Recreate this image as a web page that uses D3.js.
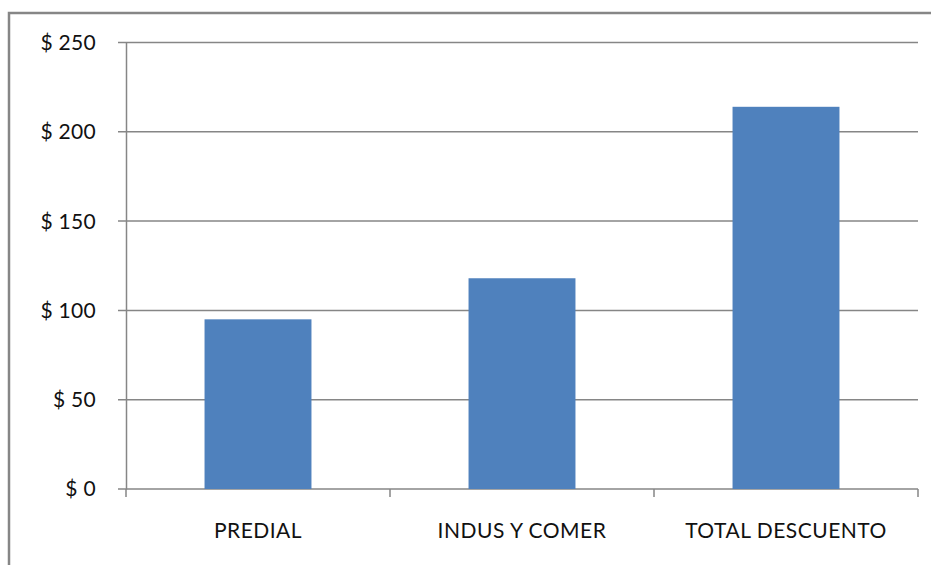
<!DOCTYPE html>
<html>
<head>
<meta charset="utf-8">
<script src="https://cdnjs.cloudflare.com/ajax/libs/d3/7.8.5/d3.min.js"></script>
<style>
  body { margin: 0; background: #fff; }
  text { font-family: Lato, "Open Sans", sans-serif; fill: #111; }
</style>
</head>
<body>
<div id="chart"></div>
<script>
var categories = ["PREDIAL", "INDUS Y COMER", "TOTAL DESCUENTO"];
var values = [95, 118, 214];
var yTicks = [0, 50, 100, 150, 200, 250];

var svgWidth = 931;
var svgHeight = 565;

var margin = { top: 42.5, bottom: 76, right: 13, left: 126 };
var width = svgWidth - margin.left - margin.right;
var height = svgHeight - margin.top - margin.bottom;

var svg = d3.select("#chart")
    .append("svg")
    .attr("width", svgWidth)
    .attr("height", svgHeight);

// outer frame
svg.append("rect")
    .attr("x", 9)
    .attr("y", 13)
    .attr("width", svgWidth)
    .attr("height", svgHeight)
    .attr("fill", "none")
    .attr("stroke", "#868686")
    .attr("stroke-width", 2.5);

var chartGroup = svg.append("g")
    .attr("transform", `translate(${margin.left}, ${margin.top})`);

var xScale = d3.scaleBand()
    .domain(categories)
    .range([0, width])
    .paddingInner(0.595)
    .paddingOuter(0.2975);

var yScale = d3.scaleLinear()
    .domain([0, 250])
    .range([height, 0]);

// gridlines
chartGroup.selectAll(".grid")
    .data(yTicks)
    .enter()
    .append("line")
    .attr("x1", -8)
    .attr("x2", width)
    .attr("y1", d => yScale(d))
    .attr("y2", d => yScale(d))
    .attr("stroke", "#868686")
    .attr("stroke-width", 1.5);

// bars
chartGroup.selectAll("rect.bar")
    .data(values)
    .enter()
    .append("rect")
    .attr("class", "bar")
    .attr("x", (d, i) => xScale(categories[i]))
    .attr("width", xScale.bandwidth())
    .attr("y", d => yScale(d))
    .attr("height", d => height - yScale(d))
    .attr("fill", "#4F81BD");

// y axis
var leftAxis = d3.axisLeft(yScale)
    .tickValues(yTicks)
    .tickSize(0)
    .tickPadding(30)
    .tickFormat(d => "$ " + d);

var yAxis = chartGroup.append("g").call(leftAxis);
yAxis.select(".domain").attr("stroke", "#868686").attr("stroke-width", 1.5);
yAxis.selectAll("text")
    .style("font-size", "21px")
    .style("letter-spacing", "0.3px")
    .attr("dy", "0.33em");

// x axis baseline with category separator ticks
var xAxis = chartGroup.append("g")
    .attr("transform", `translate(0, ${height})`);

var step = xScale.step();
var bounds = d3.range(categories.length + 1).map(i => i * step);
xAxis.selectAll("line.sep")
    .data(bounds)
    .enter()
    .append("line")
    .attr("x1", d => d)
    .attr("x2", d => d)
    .attr("y1", 0)
    .attr("y2", 8)
    .attr("stroke", "#868686")
    .attr("stroke-width", 1.5);

xAxis.selectAll("text")
    .data(categories)
    .enter()
    .append("text")
    .attr("x", d => xScale(d) + xScale.bandwidth() / 2)
    .attr("y", 49)
    .attr("text-anchor", "middle")
    .style("font-size", "21px")
    .style("letter-spacing", "0.5px")
    .text(d => d);
</script>
</body>
</html>
